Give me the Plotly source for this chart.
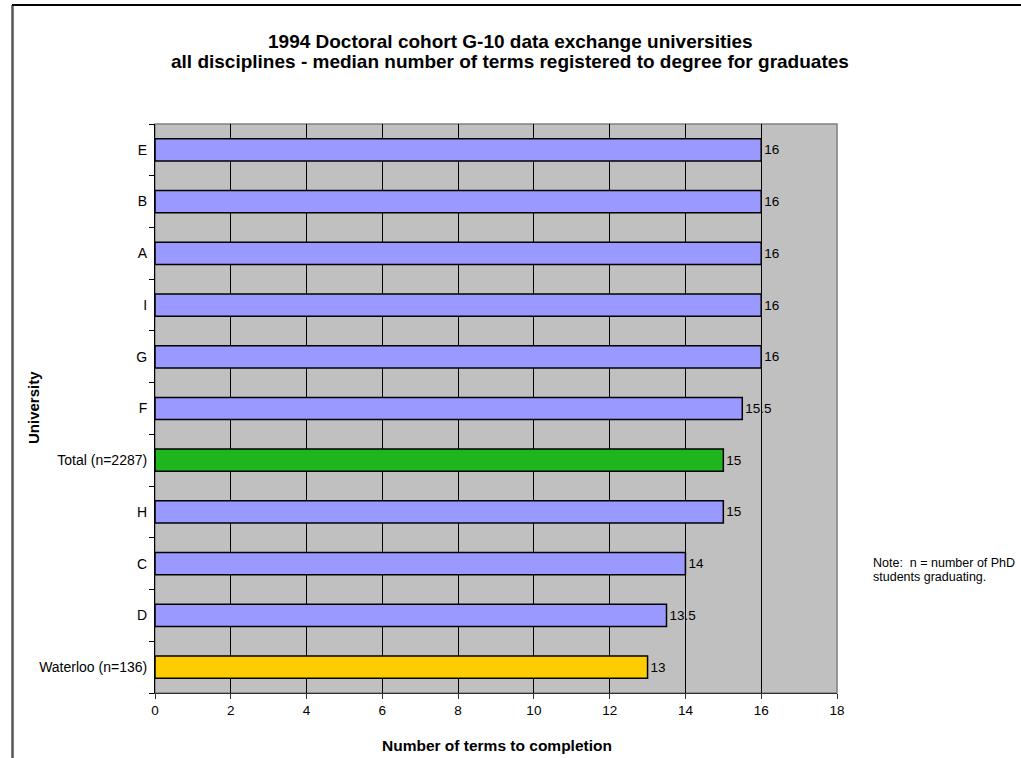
import plotly.graph_objects as go

categories = ["Waterloo (n=136)", "D", "C", "H", "Total (n=2287)", "F", "G", "I", "A", "B", "E"]
values = [13, 13.5, 14, 15, 15, 15.5, 16, 16, 16, 16, 16]
bar_colors = ["#FFCC00", "#9999FF", "#9999FF", "#9999FF", "#1FB51F", "#9999FF",
              "#9999FF", "#9999FF", "#9999FF", "#9999FF", "#9999FF"]
labels = ["13", "13.5", "14", "15", "15", "15.5", "16", "16", "16", "16", "16"]
x_ticks = [0, 2, 4, 6, 8, 10, 12, 14, 16, 18]
title_lines = ["1994 Doctoral cohort G-10 data exchange universities",
               "all disciplines - median number of terms registered to degree for graduates"]
note_lines = ["Note:  n = number of PhD", "students graduating."]

FONT = "Liberation Sans, Arial, sans-serif"
W, H = 1021, 758
L, R, T, B = 155, 184, 124, 65
PW, PH = W - L - R, H - T - B


def px(x):
    return (x - L) / PW


def py(y):
    return (H - B - y) / PH


fig = go.Figure(go.Bar(
    y=categories, x=values, orientation="h",
    marker=dict(color=bar_colors, line=dict(color="black", width=1.5)),
    text=labels, textposition="outside", cliponaxis=False,
    textfont=dict(family=FONT, size=13.5, color="black"),
    hoverinfo="skip",
))

annotations = [
    dict(text="<b>" + title_lines[0] + "</b>", xref="paper", yref="paper",
         x=px(510), y=py(42), xanchor="center", yanchor="middle", showarrow=False,
         font=dict(family=FONT, size=19, color="black")),
    dict(text="<b>" + title_lines[1] + "</b>", xref="paper", yref="paper",
         x=px(510), y=py(62), xanchor="center", yanchor="middle", showarrow=False,
         font=dict(family=FONT, size=19, color="black")),
    dict(text="<b>Number of terms to completion</b>", xref="paper", yref="paper",
         x=px(497), y=py(745), xanchor="center", yanchor="middle", showarrow=False,
         font=dict(family=FONT, size=15.5, color="black")),
    dict(text="<b>University</b>", xref="paper", yref="paper",
         x=px(33), y=py(408), xanchor="center", yanchor="middle", textangle=-90,
         showarrow=False, font=dict(family=FONT, size=15, color="black")),
]
for i, line in enumerate(note_lines):
    annotations.append(dict(text=line, xref="paper", yref="paper",
                            x=px(871), y=py(563 + 14 * i), xanchor="left", yanchor="middle",
                            align="left", showarrow=False,
                            font=dict(family=FONT, size=12.5, color="black")))

fig.update_layout(
    width=W, height=H,
    margin=dict(l=L, r=R, t=T, b=B),
    paper_bgcolor="white", plot_bgcolor="#C0C0C0",
    bargap=0.57,
    showlegend=False,
    font=dict(family=FONT, size=13.5, color="black"),
    xaxis=dict(
        range=[0, 18], tickvals=x_ticks, ticktext=[str(v) for v in x_ticks],
        showgrid=True, gridcolor="black", gridwidth=1,
        showline=True, linecolor="#303030", linewidth=1,
        ticks="outside", ticklen=5, tickcolor="#303030",
        zeroline=False,
        tickfont=dict(family=FONT, size=13.5),
        fixedrange=True,
    ),
    yaxis=dict(
        categoryorder="array", categoryarray=categories,
        showgrid=False,
        showline=True, linecolor="black", linewidth=1,
        ticks="outside", ticklen=5, tickcolor="black", tickson="boundaries",
        ticklabelstandoff=4,
        tickfont=dict(family=FONT, size=14),
        fixedrange=True,
    ),
    shapes=[
        dict(type="rect", xref="paper", yref="paper", x0=0, x1=1, y0=0, y1=1,
             line=dict(color="#808080", width=1.5), layer="below"),
        dict(type="line", xref="paper", yref="paper", x0=px(12.5), x1=px(12.5),
             y0=py(5), y1=py(H + 5), line=dict(color="#555555", width=2.5)),
        dict(type="line", xref="paper", yref="paper", x0=px(12), x1=px(W + 5),
             y0=py(5), y1=py(5), line=dict(color="black", width=2)),
    ],
    annotations=annotations,
)

fig.write_html("out.html", config={"displayModeBar": False},
               post_script="document.body.style.margin='0';")
